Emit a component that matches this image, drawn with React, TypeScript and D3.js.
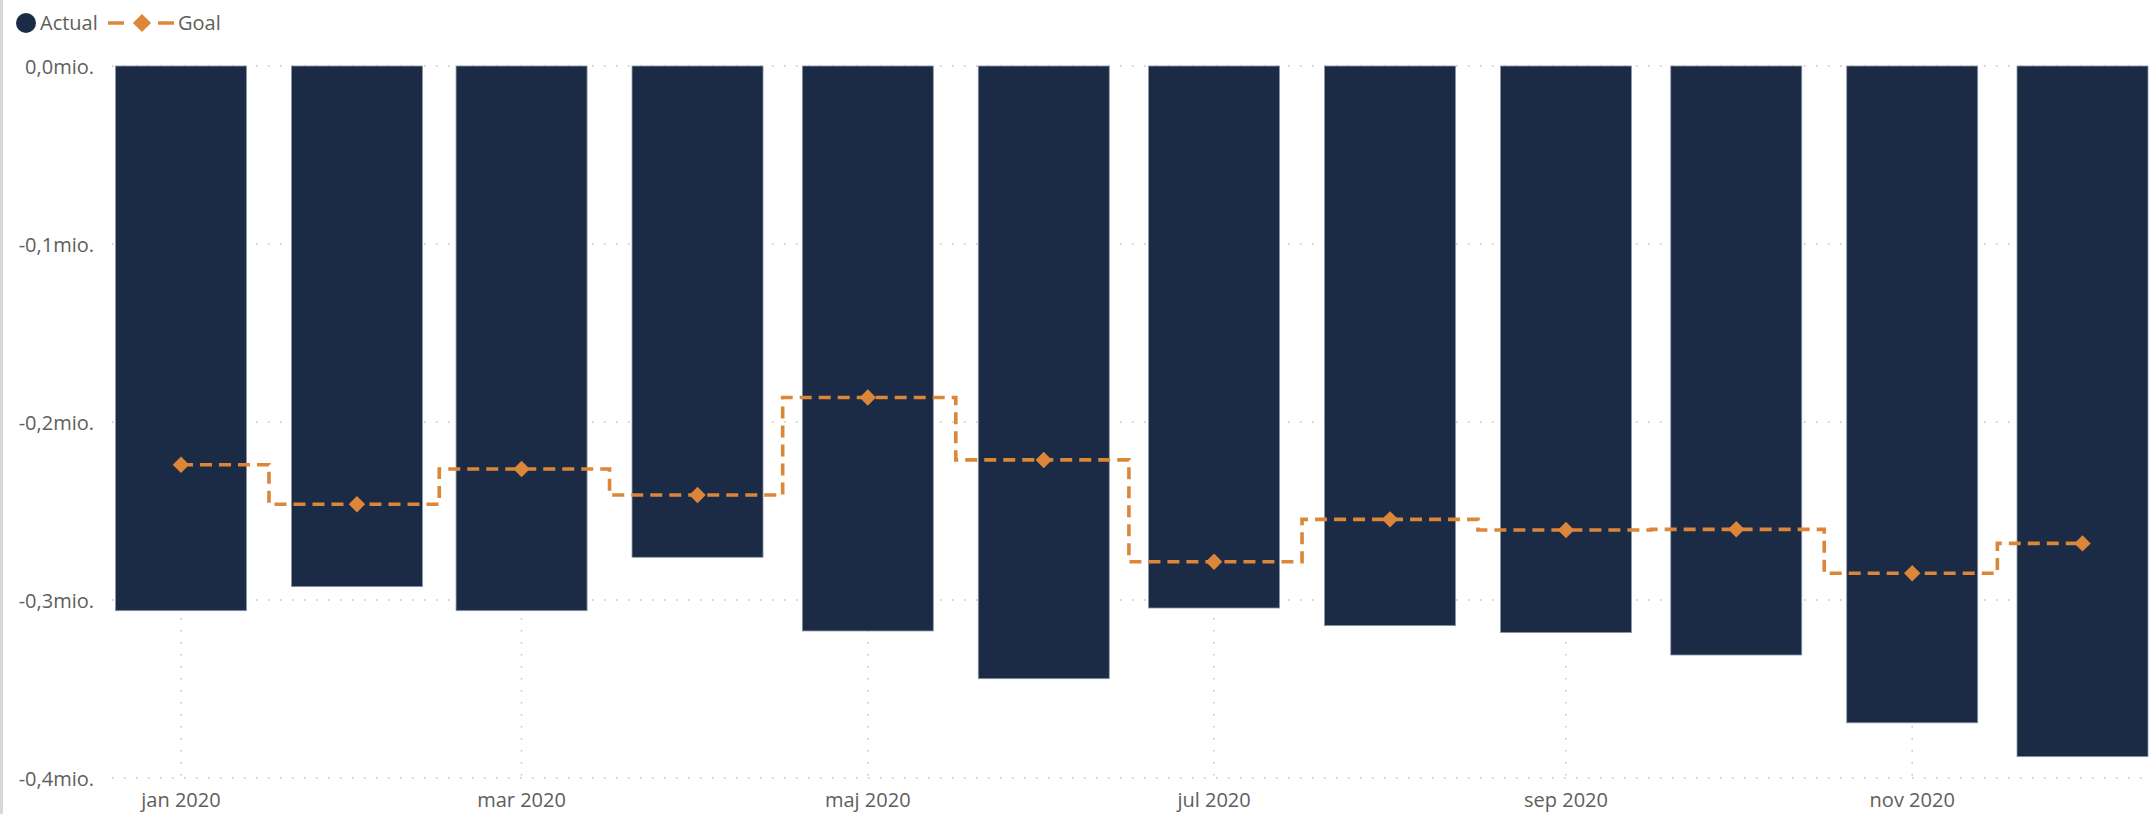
import React from 'react';
import * as d3 from 'd3';

const width = 2149;
const height = 814;

// monthly values, in millions
const months = ['jan', 'feb', 'mar', 'apr', 'maj', 'jun', 'jul', 'aug', 'sep', 'okt', 'nov', 'dec'];
const year = 2020;
const actual = [-0.306, -0.2925, -0.306, -0.276, -0.3174, -0.3442, -0.3045, -0.3144, -0.3183, -0.3309, -0.369, -0.388];
const goal = [-0.224, -0.2462, -0.2264, -0.241, -0.1862, -0.2213, -0.2785, -0.2547, -0.2607, -0.2603, -0.285, -0.2682];
const yTicks = [0, -0.1, -0.2, -0.3, -0.4];

const barColor = '#1b2a45';
const goalColor = '#db8638';
const textColor = '#605e5c';
const font = '"Open Sans", sans-serif';

const dates = months.map((m, i) => new Date(Date.UTC(year, i, 1)));

const x = d3
  .scaleUtc()
  .domain([dates[0], dates[dates.length - 1]])
  .range([181, 2082.5]);

const y = d3.scaleLinear().domain([-0.4, 0]).range([778, 66]);

const barWidth = 131;

const fmt = d3
  .formatLocale({ decimal: ',', thousands: '.', grouping: [3], currency: ['', ''], minus: '-' })
  .format('.1f');
const yLabel = (v: number) => `${fmt(v === 0 ? 0 : v)}mio.`;

const goalLine = d3
  .line<number>()
  .x((d, i) => x(dates[i]))
  .y(d => y(d))
  .curve(d3.curveStep);

// rotated square reads as the Power BI diamond marker
const diamond = d3.symbol().type(d3.symbolSquare).size(135);
const legendDiamond = d3.symbol().type(d3.symbolSquare).size(165);

export default function App() {
  return (
    <svg
      width={width}
      height={height}
      style={{ position: 'absolute', left: 0, top: 0, background: '#fff' }}
      fontFamily={font}
    >
      <rect x={0} y={0} width={3} height={height} fill="#d8d8d8" />

      {/* legend */}
      <g>
        <circle cx={26} cy={23} r={10} fill={barColor} />
        <text x={40} y={30} fontSize={20} fill={textColor}>Actual</text>
        <line x1={108} x2={124} y1={23} y2={23} stroke={goalColor} strokeWidth={3.5} />
        <path d={legendDiamond()!} transform="translate(142,23) rotate(45)" fill={goalColor} />
        <line x1={158} x2={174} y1={23} y2={23} stroke={goalColor} strokeWidth={3.5} />
        <text x={178} y={30} fontSize={20} fill={textColor}>Goal</text>
      </g>

      {/* gridlines */}
      <g stroke="#c4c4c4" strokeWidth={1.6} strokeDasharray="1.6,10.4">
        {yTicks.map(t => (
          <line key={t} x1={112} x2={width} y1={y(t)} y2={y(t)} />
        ))}
        {dates.filter((d, i) => i % 2 === 0).map((d, i) => (
          <line key={i} x1={x(d)} x2={x(d)} y1={y(0)} y2={y(-0.4)} />
        ))}
      </g>

      {/* y axis labels */}
      <g fontSize={20} fill={textColor} textAnchor="end">
        {yTicks.map(t => (
          <text key={t} x={94} y={y(t) + 8}>{yLabel(t)}</text>
        ))}
      </g>

      {/* x axis labels */}
      <g fontSize={20} fill={textColor} textAnchor="middle">
        {dates.map((d, i) =>
          i % 2 === 0 ? (
            <text key={i} x={x(d)} y={807}>{`${months[i]} ${year}`}</text>
          ) : null
        )}
      </g>

      {/* bars */}
      <g>
        {actual.map((v, i) => (
          <rect
            key={i}
            x={x(dates[i]) - barWidth / 2}
            y={y(0)}
            width={barWidth}
            height={y(v) - y(0)}
            fill={barColor}
            stroke="#8d97aa"
            strokeWidth={0.8}
          />
        ))}
      </g>

      {/* goal */}
      <path
        d={goalLine(goal)!}
        fill="none"
        stroke={goalColor}
        strokeWidth={3.6}
        strokeDasharray="12,7"
      />
      {goal.map((v, i) => (
        <path
          key={i}
          d={diamond()!}
          transform={`translate(${x(dates[i])},${y(v)}) rotate(45)`}
          fill={goalColor}
        />
      ))}
    </svg>
  );
}
